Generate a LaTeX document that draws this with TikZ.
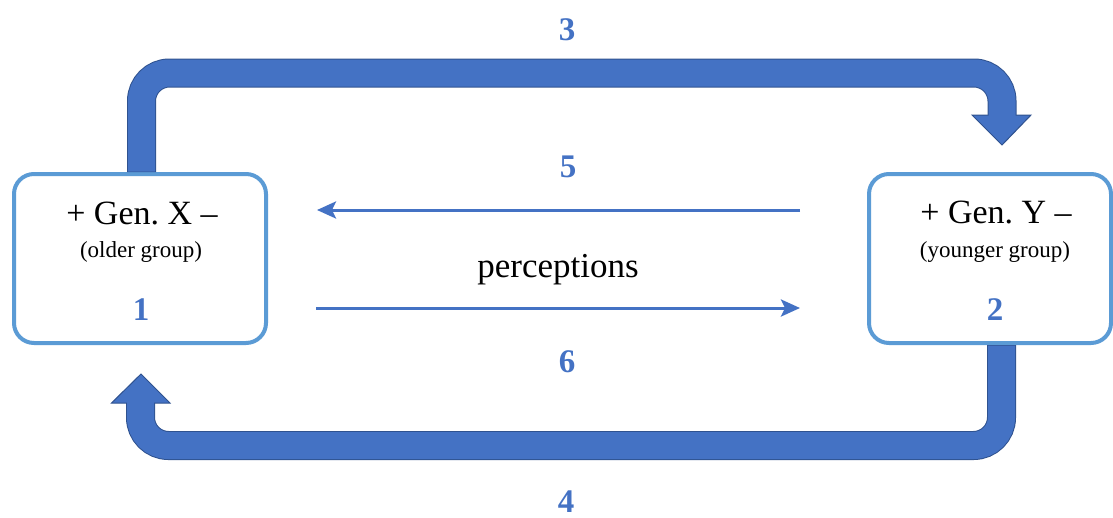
\documentclass[tikz,border=0pt]{standalone}
\usepackage{fontspec}
\setmainfont{Liberation Serif}
\usetikzlibrary{arrows.meta,calc}
\frenchspacing
\definecolor{accent}{HTML}{4472C4}
\definecolor{accentdark}{HTML}{2F528F}
\definecolor{frame}{HTML}{5B9BD5}
\tikzset{
  genbox/.style={draw=frame, line width=4pt, rounded corners=20pt, fill=white, inner sep=0pt},
  gentitle/.style={anchor=base, font=\fontsize{34}{40}\selectfont},
  gensub/.style={anchor=base, font=\fontsize{23}{28}\selectfont},
  tag/.style={anchor=base, text=accent, font=\bfseries\fontsize{33}{38}\selectfont},
  bandedge/.style={draw=accentdark, line width=29pt, rounded corners=28pt},
  bandfill/.style={draw=accent, line width=27pt, rounded corners=28pt},
  headtip/.style={fill=accent, draw=accentdark, line width=1pt, line join=miter},
  thinarrow/.style={draw=accent, line width=3pt, -{Stealth[length=19pt, width=17pt, inset=4pt]}}
}
\begin{document}
\begin{tikzpicture}[x=1pt, y=-1pt]
\useasboundingbox (0,0) rectangle (1113,517);

% the two generation boxes
\node[genbox, minimum width=252pt, minimum height=169pt] (genx) at (140,258.5) {};
\node[genbox, minimum width=242pt, minimum height=169pt] (geny) at (990,258.5) {};

\node[gentitle] (tx) at (142,224) {+ Gen. X –};
\node[gensub] (sx) at (141,257) {(older group)};
\node[tag] (n1) at (141,320) {1};

\node[gentitle] (ty) at (996,223) {+ Gen. Y –};
\node[gensub] (sy) at (995,257) {(younger group)};
\node[tag] (n2) at (995,320) {2};

% band anchor points
\coordinate (topstart) at (141.5,0 |- genx.north);
\coordinate (topbase) at (1002,115);
\coordinate (toptip) at (1002,145);
\coordinate (botstart) at (1001.5,0 |- geny.south);
\coordinate (botbase) at (140.5,403);
\coordinate (bottip) at (141,374);

% upper band: Gen. X -> Gen. Y
\draw[bandedge] (topstart) -- (141.5,73) -- (1002,73) -- (topbase);
\filldraw[headtip] ($(topbase)+(-30,0)$) -- ($(topbase)+(29,0)$) -- (toptip) -- cycle;
\draw[bandfill] (topstart) ++(0,-0.5) -- (141.5,73) -- (1002,73) -- ($(topbase)+(0,2)$);

% lower band: Gen. Y -> Gen. X
\draw[bandedge] (botstart) -- (1001.5,445.5) -- (140.5,445.5) -- (botbase);
\filldraw[headtip] ($(botbase)+(-29,0)$) -- ($(botbase)+(29.5,0)$) -- (bottip) -- cycle;
\draw[bandfill] (botstart) ++(0,0.5) -- (1001.5,445.5) -- (140.5,445.5) -- ($(botbase)+(0,-2)$);

% perception arrows
\coordinate (p5s) at (800,210);
\coordinate (p5e) at (317,210);
\coordinate (p6s) at (316,308);
\coordinate (p6e) at (800,308);
\draw[thinarrow] (p5s) -- (p5e);
\draw[thinarrow] (p6s) -- (p6e);

\node[anchor=base, font=\fontsize{35}{40}\selectfont] (perc) at (558,277) {perceptions};

% flow numbers
\node[tag] (n3) at (567,40) {3};
\node[tag] (n5) at (568,177) {5};
\node[tag] (n6) at (567,372) {6};
\node[tag] (n4) at (566,512) {4};
\end{tikzpicture}
\end{document}
